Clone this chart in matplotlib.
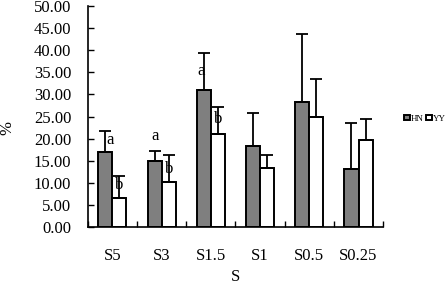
import numpy as np
import matplotlib
matplotlib.use("Agg")
import matplotlib.pyplot as plt

categories = ["S5", "S3", "S1.5", "S1", "S0.5", "S0.25"]
hn_values = [16.9, 14.9, 31.1, 18.3, 28.3, 13.2]
hn_err = [4.9, 2.4, 8.3, 7.6, 15.4, 10.3]
yy_values = [6.5, 10.1, 21.0, 13.3, 24.9, 19.6]
yy_err = [5.1, 6.2, 6.1, 3.0, 8.7, 4.8]

# significance letters: (category index, series, letter, y)
letters = [(0, "HN", "a", 19.7), (0, "YY", "b", 9.5),
           (1, "HN", "a", 20.6), (1, "YY", "b", 13.1),
           (2, "HN", "a", 35.4), (2, "YY", "b", 24.4)]
letter_shift = {(0, "HN"): 0.09, (2, "HN"): -0.06}

plt.rcParams['font.family'] = ['Liberation Serif', 'DejaVu Serif']

fig = plt.figure(figsize=(4.46, 2.86), dpi=100)
ax = fig.add_axes([0.197, 0.206, 0.662, 0.773])

x = np.arange(len(categories))
w = 0.285
ekw = dict(elinewidth=1.3, capthick=1.3, capsize=4, ecolor="black")
ax.bar(x - w / 2, hn_values, w, color="#7f7f7f", edgecolor="black", linewidth=1.4,
       yerr=[np.zeros(len(x)), hn_err], error_kw=ekw, label="HN")
ax.bar(x + w / 2, yy_values, w, color="white", edgecolor="black", linewidth=1.4,
       yerr=[np.zeros(len(x)), yy_err], error_kw=ekw, label="YY")

for i, s, t, y in letters:
    off = -w / 2 if s == "HN" else w / 2
    off += letter_shift.get((i, s), 0)
    ax.text(i + off, y, t, fontsize=12, ha="center", va="center")

ax.set_xlim(-0.5, len(categories) - 0.5)
ax.set_ylim(0, 50)
ax.set_yticks(np.arange(0, 50.01, 5))
ax.set_yticklabels(["%.2f" % v for v in np.arange(0, 50.01, 5)], fontsize=12)
ax.set_xticks(x)
ax.set_xticklabels(categories, fontsize=12)
ax.set_xticks(np.arange(-0.5, len(categories)), minor=True)
ax.tick_params(axis="x", which="major", length=0, pad=15)
ax.tick_params(axis="x", which="minor", direction="in", length=4, width=1)
ax.tick_params(axis="y", direction="in", length=4, width=1, pad=12)
for side in ["top", "right"]:
    ax.spines[side].set_visible(False)
for side in ["left", "bottom"]:
    ax.spines[side].set_linewidth(1.2)

ax.set_xlabel("S", fontsize=12)
ax.xaxis.set_label_coords(0.5, -0.19)
ax.set_ylabel("%", fontsize=12)
ax.yaxis.set_label_coords(-0.245, 0.45)

ax.legend(loc="center left", bbox_to_anchor=(1.05, 0.49), ncol=2, frameon=False,
          fontsize=6.5, handlelength=0.6, handleheight=0.6, handletextpad=0.1,
          columnspacing=0.3, borderaxespad=0.3)

fig.savefig("out.png", dpi=100)
